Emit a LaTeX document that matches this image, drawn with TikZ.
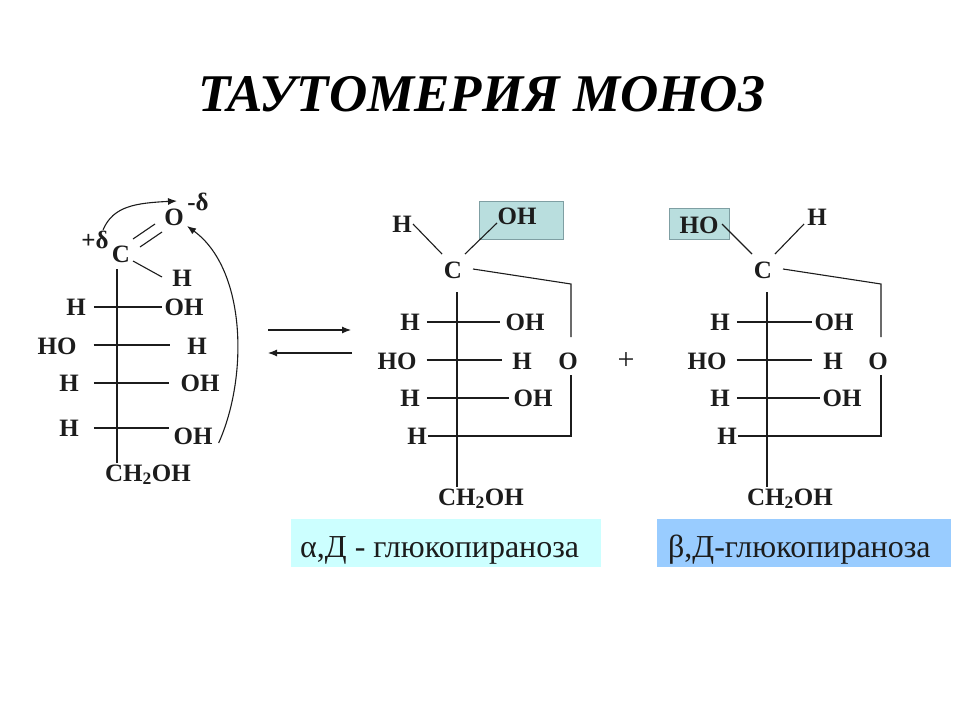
\documentclass[tikz,border=0pt]{standalone}
\usepackage{fontspec}
\setmainfont{Liberation Serif}
\usepackage{tikz}
\usetikzlibrary{arrows.meta, calc}

\definecolor{boxOH}{HTML}{B9DEDE}
\definecolor{boxEdge}{HTML}{7F9FA3}
\definecolor{boxAlpha}{HTML}{CCFFFF}
\definecolor{boxBeta}{HTML}{99CCFF}
\definecolor{inkGray}{HTML}{1C1C1C}

\tikzset{
  lbl/.style={inner sep=0pt, text height=16.5pt, text depth=0pt, text=inkGray,
    font=\fontsize{25}{25}\selectfont\bfseries},
  sgn/.style={inner sep=0pt, text=inkGray, font=\fontsize{25}{25}\selectfont\bfseries},
  bond/.style={line width=1.1pt, draw=inkGray},
  tip/.style={-{Latex[length=9pt, width=7pt]}},
  namebox/.style={inner sep=0pt, minimum height=48pt},
  nametxt/.style={inner sep=0pt, text=inkGray, anchor=base west,
    font=\fontsize{32}{32}\selectfont},
  hlbox/.style={draw=boxEdge, line width=0.8pt, fill=boxOH, inner sep=0pt}
}

\begin{document}
\begin{tikzpicture}[x=1pt, y=-1pt]

\useasboundingbox (0,0) rectangle (960,720);

\node[inner sep=0pt, text=black, font=\fontsize{53}{53}\selectfont\bfseries\itshape] (title) at (482,94) {ТАУТОМЕРИЯ МОНОЗ};

%% open chain form
\node[lbl] (oL) at (174,217) {O};
\node[sgn] (minusL) at (198,202) {-δ};
\node[sgn] (plusL) at (95,240) {+δ};
\node[lbl] (cL) at (121,254) {C};
\node[lbl] (hL) at (182,278) {H};
\node[lbl] (hL1) at (76,307) {H};
\node[lbl] (ohL1) at (184,307) {OH};
\node[lbl] (hoL2) at (57,346) {HO};
\node[lbl] (hL2) at (197,346) {H};
\node[lbl] (hL3) at (69,383) {H};
\node[lbl] (ohL3) at (200,383) {OH};
\node[lbl] (hL4) at (69,428) {H};
\node[lbl] (ohL4) at (193,436) {OH};
\node[lbl] (chL) at (148,473) {CH\textsubscript{2}OH};

\draw[bond] ($(cL)+(-4,15)$) -- ($(chL)+(-31,-10)$);
\draw[bond] ($(cL)+(12,-15)$) -- ($(oL)+(-19,7)$);
\draw[bond] ($(cL)+(19,-7)$) -- ($(oL)+(-12,15)$);
\draw[bond] ($(cL)+(12,7)$) -- ($(hL)+(-20,-1)$);
\draw[bond] ($(hL1.east)+(8,0)$) -- ($(ohL1.west)+(-2,0)$);
\draw[bond] ($(hoL2.east)+(17,-1)$) -- ($(hL2.west)+(-17,-1)$);
\draw[bond] ($(hL3.east)+(15,0)$) -- ($(ohL3.west)+(-11,0)$);
\draw[bond] ($(hL4.east)+(15,0)$) -- ($(ohL4.west)+(-4,-8)$);

\draw[bond, tip] ($(plusL)+(8,-10)$) .. controls ($(plusL)+(18,-34)$) and ($(oL)+(-38,-14)$) .. ($(oL)+(3,-16)$);
\draw[bond, tip] ($(ohL4.east)+(6,7)$) .. controls ($(ohL4.east)+(36,-60)$) and ($(oL)+(72,52)$) .. ($(oL)+(13,9)$);

%% equilibrium arrows
\coordinate (arrAw) at (268,330);
\coordinate (arrAe) at (351,330);
\coordinate (arrBw) at (268,353);
\coordinate (arrBe) at (352,353);
\draw[bond, tip] (arrAw) -- (arrAe);
\draw[bond, tip] (arrBe) -- (arrBw);

%% alpha form
\node[hlbox, minimum width=84pt, minimum height=38pt] (boxA) at (521,220) {};
\node[lbl] (cA) at (453,270) {C};
\node[lbl] (hA) at (402,224) {H};
\node[lbl] (ohA) at (517,216) {OH};
\node[lbl] (hA1) at (410,322) {H};
\node[lbl] (ohA1) at (525,322) {OH};
\node[lbl] (hoA2) at (397,361) {HO};
\node[lbl] (hA2) at (522,361) {H};
\node[lbl] (oA) at (568,361) {O};
\node[lbl] (hA3) at (410,398) {H};
\node[lbl] (ohA3) at (533,398) {OH};
\node[lbl] (hA4) at (417,436) {H};
\node[lbl] (chA) at (481,497) {CH\textsubscript{2}OH};
\coordinate (ringAt) at (571,284);
\coordinate (ringAb) at (571,436);

\draw[bond] ($(cA)+(4,22)$) -- ($(chA)+(-24,-10)$);
\draw[bond] ($(hA)+(11,0)$) -- ($(cA)+(-11,-16)$);
\draw[bond] ($(ohA)+(-20,7)$) -- ($(cA)+(12,-16)$);
\draw[bond] ($(cA)+(20,-1)$) -- (ringAt) -- ($(oA)+(3,-24)$);
\draw[bond] ($(oA)+(3,14)$) -- (ringAb) -- ($(hA4.east)+(1,0)$);
\draw[bond] ($(hA1.east)+(7,0)$) -- ($(ohA1.west)+(-5,0)$);
\draw[bond] ($(hoA2.east)+(10,-1)$) -- ($(hA2.west)+(-10,-1)$);
\draw[bond] ($(hA3.east)+(7,0)$) -- ($(ohA3.west)+(-4,0)$);

\node[inner sep=0pt, text=inkGray, font=\fontsize{30}{30}\selectfont] (plusAB) at (626,361) {+};

%% beta form
\node[hlbox, minimum width=60pt, minimum height=31pt] (boxB) at (699,224) {};
\node[lbl] (cB) at (763,270) {C};
\node[lbl] (hoB) at (699,225) {HO};
\node[lbl] (hB) at (817,217) {H};
\node[lbl] (hB1) at (720,322) {H};
\node[lbl] (ohB1) at (834,322) {OH};
\node[lbl] (hoB2) at (707,361) {HO};
\node[lbl] (hB2) at (833,361) {H};
\node[lbl] (oB) at (878,361) {O};
\node[lbl] (hB3) at (720,398) {H};
\node[lbl] (ohB3) at (842,398) {OH};
\node[lbl] (hB4) at (727,436) {H};
\node[lbl] (chB) at (790,497) {CH\textsubscript{2}OH};
\coordinate (ringBt) at (881,284);
\coordinate (ringBb) at (881,436);

\draw[bond] ($(cB)+(4,22)$) -- ($(chB)+(-23,-10)$);
\draw[bond] ($(hoB)+(23,-1)$) -- ($(cB)+(-11,-16)$);
\draw[bond] ($(hB)+(-13,7)$) -- ($(cB)+(12,-16)$);
\draw[bond] ($(cB)+(20,-1)$) -- (ringBt) -- ($(oB)+(3,-24)$);
\draw[bond] ($(oB)+(3,14)$) -- (ringBb) -- ($(hB4.east)+(1,0)$);
\draw[bond] ($(hB1.east)+(7,0)$) -- ($(ohB1.west)+(-2,0)$);
\draw[bond] ($(hoB2.east)+(10,-1)$) -- ($(hB2.west)+(-11,-1)$);
\draw[bond] ($(hB3.east)+(7,0)$) -- ($(ohB3.west)+(-2,0)$);

%% name boxes
\node[namebox, fill=boxAlpha, minimum width=310pt] (nameA) at (446,543) {};
\node[namebox, fill=boxBeta, minimum width=294pt] (nameB) at (804,543) {};
\node[nametxt] (nameAt) at (300,557) {α,Д - глюкопираноза};
\node[nametxt] (nameBt) at (668,557) {β,Д-глюкопираноза};

\end{tikzpicture}
\end{document}
